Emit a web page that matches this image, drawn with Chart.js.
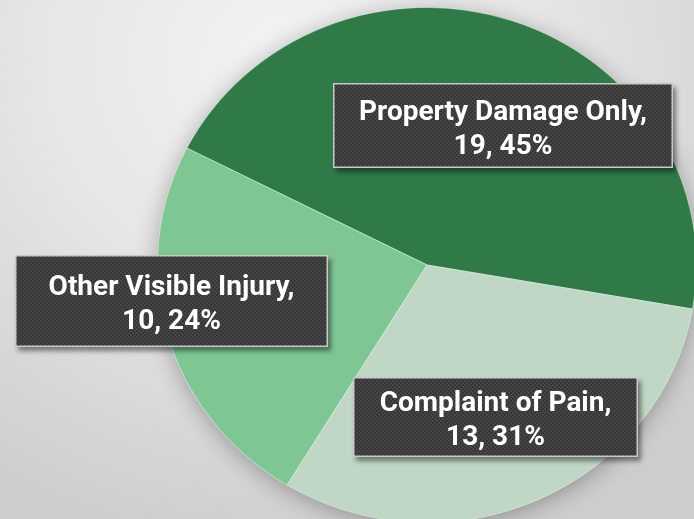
<!DOCTYPE html>
<html lang="en">
<head>
  <meta charset="UTF-8">
  <title>Collision severity</title>
  <script src="https://cdn.jsdelivr.net/npm/chart.js"></script>
  <style>
    html, body {
      margin: 0;
      padding: 0;
      overflow: hidden;
    }

    .wrap {
      position: relative;
      width: 694px;
      height: 519px;
      overflow: hidden;
      background: radial-gradient(ellipse 80% 95% at 42% 12%, #f3f3f3 0%, #e6e6e6 45%, #d6d6d6 80%, #cdcdcd 100%);
    }

    canvas {
      position: absolute;
      left: 0;
      top: 0;
    }
  </style>
</head>

<body>
  <div class="wrap">
    <canvas id="pieChart" width="854" height="530"></canvas>
  </div>

  <script>
    // data
    const categories = ['Property Damage Only', 'Complaint of Pain', 'Other Visible Injury'];
    const counts = [19, 13, 10];
    const sliceColors = ['#307a48', '#c0d7c5', '#7ec693'];

    // label boxes (page px) : x, y, w, h
    const boxes = [
      [333, 83, 340, 85],
      [353, 377, 285, 80],
      [15, 255, 313, 92]
    ];

    // pie drawn slightly wider than tall, like the original
    const stretchX = 270 / 265;
    const stretchY = 258 / 265;

    function makeDots(ctx) {
      const c = document.createElement('canvas');
      c.width = 4; c.height = 4;
      const p = c.getContext('2d');
      p.fillStyle = '#363636';
      p.fillRect(0, 0, 4, 4);
      p.fillStyle = '#464646';
      p.fillRect(0, 0, 2, 2);
      p.fillRect(2, 2, 2, 2);
      return ctx.createPattern(c, 'repeat');
    }

    const ellipsePlugin = {
      id: 'ellipse',
      beforeDatasetsDraw(chart) {
        const ctx = chart.ctx;
        const arc = chart.getDatasetMeta(0).data[0];
        const cx = arc.x, cy = arc.y, r = arc.outerRadius;
        ctx.save();
        ctx.translate(cx, cy);
        ctx.scale(stretchX, stretchY);
        ctx.translate(-cx, -cy);
        // soft shadow under the whole pie
        ctx.save();
        ctx.shadowColor = 'rgba(0,0,0,0.3)';
        ctx.shadowBlur = 22;
        ctx.shadowOffsetX = 0;
        ctx.shadowOffsetY = 4;
        ctx.beginPath();
        ctx.arc(cx, cy, r, 0, Math.PI * 2);
        ctx.fillStyle = '#9fbfa8';
        ctx.fill();
        ctx.restore();
      },
      afterDatasetsDraw(chart) {
        chart.ctx.restore();
      }
    };

    const labelPlugin = {
      id: 'boxLabels',
      afterDraw(chart) {
        const ctx = chart.ctx;
        const total = counts.reduce((a, b) => a + b, 0);
        const dots = makeDots(ctx);
        boxes.forEach((b, i) => {
          const [x, y, w, h] = b;
          ctx.save();
          ctx.shadowColor = 'rgba(0,0,0,0.45)';
          ctx.shadowBlur = 5;
          ctx.shadowOffsetX = 3;
          ctx.shadowOffsetY = 4;
          ctx.fillStyle = dots;
          ctx.fillRect(x, y, w, h);
          ctx.restore();
          ctx.strokeStyle = '#c9c9c9';
          ctx.lineWidth = 1.5;
          ctx.strokeRect(x + 0.75, y + 0.75, w - 1.5, h - 1.5);

          const pct = Math.round(counts[i] / total * 100);
          ctx.fillStyle = '#ffffff';
          ctx.font = 'bold 28px Roboto, sans-serif';
          ctx.textAlign = 'center';
          ctx.textBaseline = 'alphabetic';
          const mx = x + w / 2;
          const my = y + h / 2;
          ctx.fillText(categories[i] + ',', mx, my - 6);
          ctx.fillText(counts[i] + ', ' + pct + '%', mx, my + 28);
        });
      }
    };

    new Chart(document.getElementById('pieChart'), {
      type: 'pie',
      data: {
        labels: categories,
        datasets: [{
          data: counts,
          backgroundColor: sliceColors,
          borderColor: 'rgba(235,255,240,0.45)',
          borderWidth: 1,
          hoverOffset: 0
        }]
      },
      options: {
        responsive: false,
        animation: false,
        rotation: 297,
        layout: { padding: 0 },
        plugins: {
          legend: { display: false },
          tooltip: { enabled: false }
        }
      },
      plugins: [ellipsePlugin, labelPlugin]
    });
  </script>
</body>

</html>
